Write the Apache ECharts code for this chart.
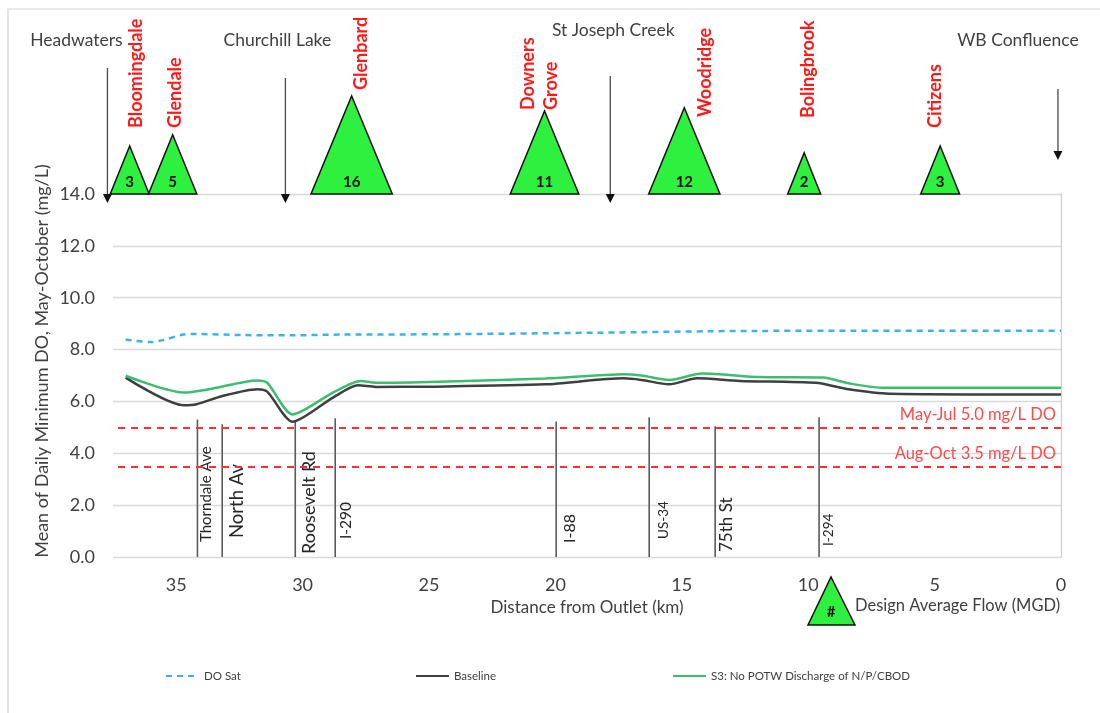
<!DOCTYPE html>
<html><head><meta charset="utf-8">
<script src="https://cdn.jsdelivr.net/npm/echarts@6/dist/echarts.min.js"></script>
<style>html,body{margin:0;padding:0;background:#fff}#c{width:1100px;height:713px}</style>
</head><body><div id="c"></div>
<script>
// ---------------- DATA ----------------
const baselineKm = [37.0, 34.7, 34.2, 33.2, 31.8, 31.4, 30.4, 28.8, 27.8, 27.1, 25.0, 20.4, 17.3, 16.6, 15.5, 14.4, 12.7, 9.7, 8.4, 6.8, 0];
const baselineDO = [6.92, 5.85, 5.89, 6.20, 6.47, 6.38, 5.22, 6.15, 6.62, 6.56, 6.57, 6.66, 6.89, 6.83, 6.66, 6.89, 6.79, 6.72, 6.47, 6.30, 6.27];
const s3Km = [37.0, 34.7, 33.7, 31.8, 31.4, 30.4, 28.8, 27.7, 27.1, 24.6, 20.4, 17.3, 16.6, 15.5, 14.2, 11.9, 9.4, 8.4, 7.1, 0];
const s3DO = [6.99, 6.34, 6.47, 6.81, 6.72, 5.50, 6.34, 6.79, 6.72, 6.76, 6.88, 7.05, 7.00, 6.83, 7.08, 6.94, 6.92, 6.70, 6.53, 6.53];
const satKm = [37.0, 36.0, 35.5, 34.7, 34.2, 32.4, 30.4, 28.4, 24.6, 18.4, 12.0, 0];
const satDO = [8.39, 8.29, 8.37, 8.58, 8.60, 8.56, 8.55, 8.58, 8.59, 8.65, 8.72, 8.73];

const seriesNames = ['DO Sat', 'Baseline', 'S3: No POTW Discharge of N/P/CBOD'];

const plantNames = ['Bloomingdale', 'Glendale', 'Glenbard', 'Downers\nGrove', 'Woodridge', 'Bolingbrook', 'Citizens'];
const plantKm = [36.84, 35.14, 28.06, 20.43, 14.90, 10.16, 4.78];
const plantFlow = [3, 5, 16, 11, 12, 2, 3];

const roadNames = ['Thorndale Ave', 'North Av', 'Roosevelt Rd', 'I-290', 'I-88', 'US-34', '75th St', 'I-294'];
const roadKm = [34.16, 33.18, 30.29, 28.71, 19.97, 16.29, 13.68, 9.57];
const roadTopDO = [5.30, 5.12, 5.23, 5.35, 5.23, 5.39, 5.04, 5.39];

const placeNames = ['Headwaters', 'Churchill Lake', 'St Joseph Creek', 'WB Confluence'];
const placeKm = [37.72, 30.68, 17.83, 0.12];

const standardDO = [5.0, 3.5];
const standardLabels = ['May-Jul 5.0 mg/L DO', 'Aug-Oct 3.5 mg/L DO'];

const xTickLabels = ['0', '5', '10', '15', '20', '25', '30', '35'];

// ---------------- LAYOUT (pixels, not data) ----------------
const FONT = 'Lato, "Open Sans", "Liberation Sans", sans-serif';
const plantLabelLayout = [[7, 66], [3, 66], [10, 104], [-5, 84], [21, 77], [4, 76], [-5, 66]]; // dx, rise above base
const roadLabelLayout = [[15, 9, 15], [18.5, 15, 19], [18, 14, 3], [15.5, 11, 18], [16, 14, 14], [13.5, 14, 18], [17, 11, 5], [13.5, 10, 11]]; // fontSize, dx, rise
const placeLayout = [[-126, 9, -31, -154], [-116, 9, -8, -154], [-118, 9, 3, -164], [-105, -34, -40, -154]]; // top, tip, labelDx, labelY (rel. grid top)

function zip(a, b) { return a.map((v, i) => [v, b[i]]); }

const GREEN = '#2df03f';
const chart = echarts.init(document.getElementById('c'), null, { renderer: 'canvas' });

const legendCommon = { top: 665, itemWidth: 33, itemHeight: 10, itemStyle: { opacity: 0 }, textStyle: { color: '#404040', fontSize: 11.5 } };

const option = {
  animation: false,
  backgroundColor: '#fff',
  textStyle: { fontFamily: FONT },
  grid: { left: 113, right: 39, top: 194, bottom: 156, containLabel: false },
  xAxis: {
    type: 'value', min: 0, max: 37.5, interval: 5, inverse: true,
    axisLine: { show: false }, axisTick: { show: false }, splitLine: { show: false },
    axisLabel: {
      color: '#404040', fontSize: 18, margin: 19, showMaxLabel: false,
      formatter: v => (xTickLabels.indexOf(String(v)) >= 0 ? String(v) : '')
    },
    name: 'Distance from Outlet (km)', nameLocation: 'middle', nameGap: 41,
    nameTextStyle: { color: '#404040', fontSize: 17 }
  },
  yAxis: [{
    type: 'value', min: 0, max: 14, interval: 2,
    axisLine: { show: false }, axisTick: { show: false },
    splitLine: { lineStyle: { color: '#d9d9d9', width: 1.3 } },
    axisLabel: { color: '#404040', fontSize: 18, margin: 18, formatter: v => v.toFixed(1) }
  }, {
    type: 'value', min: 0, max: 14, interval: 2, position: 'right',
    axisLine: { show: true, lineStyle: { color: '#d0d0d0', width: 1.3 } },
    axisTick: { show: false }, axisLabel: { show: false }, splitLine: { show: false }
  }],
  legend: [
    Object.assign({ data: [seriesNames[0]], left: 160 }, legendCommon),
    Object.assign({ data: [seriesNames[1]], left: 410 }, legendCommon),
    Object.assign({ data: [seriesNames[2]], left: 667 }, legendCommon)
  ],
  graphic: [
    { type: 'rect', shape: { x: 8, y: 9, width: 1200, height: 800 }, style: { fill: 'none', stroke: '#d4d4d4', lineWidth: 1.2 }, silent: true },
    { type: 'text', x: 42, y: 361, rotation: Math.PI / 2,
      style: { text: 'Mean of Daily Minimum DO, May-October (mg/L)', font: '18px ' + FONT, fill: '#404040', align: 'center', verticalAlign: 'middle' } },
    { type: 'polygon', shape: { points: [[808, 625], [855, 625], [831, 577]] }, style: { fill: GREEN, stroke: '#111', lineWidth: 1.5 } },
    { type: 'text', x: 831, y: 612, style: { text: '#', font: 'bold 15px ' + FONT, fill: '#111', align: 'center', verticalAlign: 'middle' } },
    { type: 'text', x: 855, y: 606, style: { text: 'Design Average Flow (MGD)', font: '16.5px ' + FONT, fill: '#404040', align: 'left', verticalAlign: 'middle' } }
  ],
  series: [
    {
      type: 'line', name: seriesNames[0], data: zip(satKm, satDO), smooth: 0.3, symbol: 'none', z: 3,
      lineStyle: { color: '#3ab4ec', width: 2.5, type: [6, 5] }, itemStyle: { color: '#3ab4ec' },
      markLine: {
        silent: true, symbol: 'none', animation: false,
        lineStyle: { color: '#ff3030', width: 2, type: [7, 6] },
        label: { position: 'insideStartTop', color: '#ff4a4a', fontSize: 16.5, distance: [5, 4], fontFamily: FONT },
        data: standardDO.map((v, i) => ({ yAxis: v, label: { formatter: standardLabels[i] } }))
      }
    },
    {
      type: 'line', name: seriesNames[1], data: zip(baselineKm, baselineDO), smooth: 0.25, symbol: 'none', z: 4,
      lineStyle: { color: '#3f3f3f', width: 2.5 }, itemStyle: { color: '#3f3f3f' }
    },
    {
      type: 'line', name: seriesNames[2], data: zip(s3Km, s3DO), smooth: 0.25, symbol: 'none', z: 4,
      lineStyle: { color: '#3dbd6e', width: 2.5 }, itemStyle: { color: '#3dbd6e' }
    },
    {
      type: 'custom', name: 'roads', silent: true, z: 2,
      data: roadKm.map((k, i) => [k, roadTopDO[i], i]),
      encode: { x: 0, y: 1 },
      renderItem: (params, api) => {
        const i = api.value(2);
        const p0 = api.coord([api.value(0), 0]);
        const p1 = api.coord([api.value(0), api.value(1)]);
        const L = roadLabelLayout[i];
        return { type: 'group', children: [
          { type: 'line', shape: { x1: p0[0], y1: p0[1], x2: p1[0], y2: p1[1] }, style: { stroke: '#5a5a5a', lineWidth: 1.6 } },
          { type: 'text', x: p0[0] + L[1], y: p0[1] - L[2], rotation: Math.PI / 2,
            style: { text: roadNames[i], font: L[0] + 'px ' + FONT, fill: '#262626', align: 'left', verticalAlign: 'middle' } }
        ] };
      }
    },
    {
      type: 'custom', name: 'plants', silent: true, z: 6,
      data: plantKm.map((k, i) => [k, 14, plantFlow[i], i]),
      encode: { x: 0, y: 1 },
      renderItem: (params, api) => {
        const i = api.value(3);
        const f = api.value(2);
        const b = api.coord([api.value(0), 14]);
        const h = 10 + 22 * Math.sqrt(f), w = 0.85 * h - 2;
        const L = plantLabelLayout[i];
        return { type: 'group', children: [
          { type: 'polygon', shape: { points: [[b[0] - w / 2, b[1]], [b[0] + w / 2, b[1]], [b[0], b[1] - h]] },
            style: { fill: GREEN, stroke: '#111', lineWidth: 1.5 } },
          { type: 'text', x: b[0], y: b[1] - 12,
            style: { text: String(f), font: 'bold 15px ' + FONT, fill: '#111', align: 'center', verticalAlign: 'middle' } },
          { type: 'text', x: b[0] + L[0], y: b[1] - L[1], rotation: Math.PI / 2,
            style: { text: plantNames[i], font: 'bold 18px ' + FONT, fill: '#ff1a1a', align: 'left', verticalAlign: 'middle', lineHeight: 23 } }
        ] };
      }
    },
    {
      type: 'custom', name: 'places', silent: true, z: 6,
      data: placeKm.map((k, i) => [k, 14, i]),
      encode: { x: 0, y: 1 },
      renderItem: (params, api) => {
        const i = api.value(2);
        const b = api.coord([api.value(0), 14]);
        const L = placeLayout[i];
        const x = b[0], top = b[1] + L[0], tip = b[1] + L[1];
        return { type: 'group', children: [
          { type: 'line', shape: { x1: x, y1: top, x2: x, y2: tip - 7 }, style: { stroke: '#4a4a4a', lineWidth: 1.3 } },
          { type: 'polygon', shape: { points: [[x - 4.5, tip - 9], [x + 4.5, tip - 9], [x, tip]] }, style: { fill: '#111' } },
          { type: 'text', x: x + L[2], y: b[1] + L[3],
            style: { text: placeNames[i], font: '17.5px ' + FONT, fill: '#404040', align: 'center', verticalAlign: 'middle' } }
        ] };
      }
    }
  ]
};
chart.setOption(option);
</script></body></html>
